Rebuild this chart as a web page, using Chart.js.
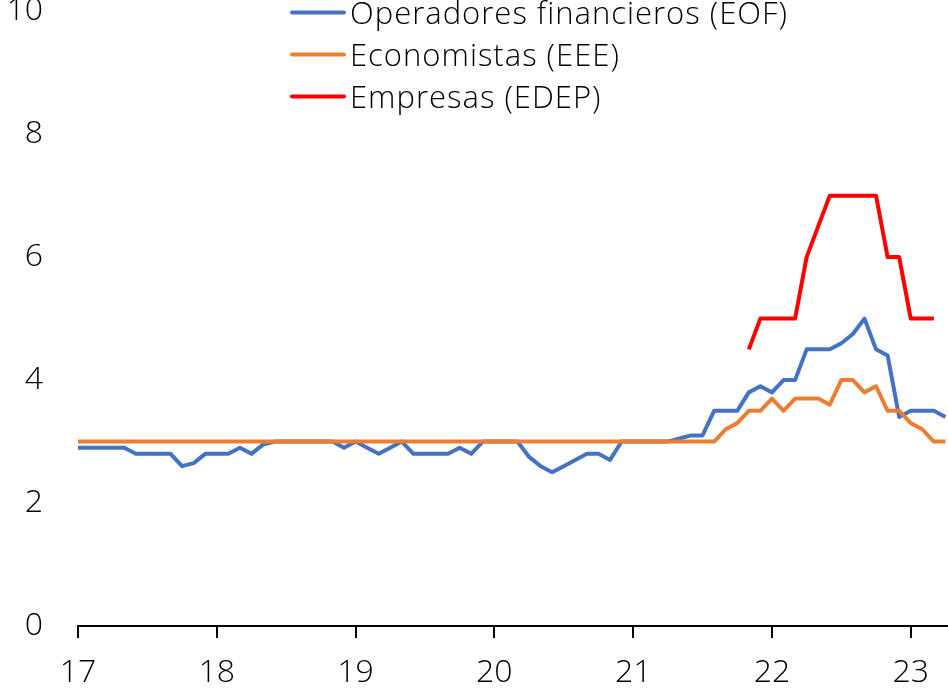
<!DOCTYPE html>
<html>
<head>
<meta charset="utf-8">
<script src="https://cdn.jsdelivr.net/npm/chart.js@4"></script>
<style>
  html, body { margin: 0; padding: 0; background: #fff; }
  #wrap { width: 948px; height: 692px; }
</style>
</head>
<body>
<div id="wrap"><canvas id="chart" width="948" height="692"></canvas></div>
<script>
// monthly observations, Jan 2017 .. Apr 2023
const yearLabels = ['17', '18', '19', '20', '21', '22', '23'];

const eof = [
  2.9, 2.9, 2.9, 2.9, 2.9, 2.8, 2.8, 2.8, 2.8, 2.6, 2.65, 2.8,   // 2017
  2.8, 2.8, 2.9, 2.8, 2.95, 3.0, 3.0, 3.0, 3.0, 3.0, 3.0, 2.9,   // 2018
  3.0, 2.9, 2.8, 2.9, 3.0, 2.8, 2.8, 2.8, 2.8, 2.9, 2.8, 3.0,    // 2019
  3.0, 3.0, 3.0, 2.75, 2.6, 2.5, 2.6, 2.7, 2.8, 2.8, 2.7, 3.0,   // 2020
  3.0, 3.0, 3.0, 3.0, 3.05, 3.1, 3.1, 3.5, 3.5, 3.5, 3.8, 3.9,   // 2021
  3.8, 4.0, 4.0, 4.5, 4.5, 4.5, 4.6, 4.75, 5.0, 4.5, 4.4, 3.4,   // 2022
  3.5, 3.5, 3.5, 3.4                                             // 2023
];

const eee = [
  3.0, 3.0, 3.0, 3.0, 3.0, 3.0, 3.0, 3.0, 3.0, 3.0, 3.0, 3.0,
  3.0, 3.0, 3.0, 3.0, 3.0, 3.0, 3.0, 3.0, 3.0, 3.0, 3.0, 3.0,
  3.0, 3.0, 3.0, 3.0, 3.0, 3.0, 3.0, 3.0, 3.0, 3.0, 3.0, 3.0,
  3.0, 3.0, 3.0, 3.0, 3.0, 3.0, 3.0, 3.0, 3.0, 3.0, 3.0, 3.0,
  3.0, 3.0, 3.0, 3.0, 3.0, 3.0, 3.0, 3.0, 3.2, 3.3, 3.5, 3.5,
  3.7, 3.5, 3.7, 3.7, 3.7, 3.6, 4.0, 4.0, 3.8, 3.9, 3.5, 3.5,
  3.3, 3.2, 3.0, 3.0
];

const edep = [
  null, null, null, null, null, null, null, null, null, null, null, null,
  null, null, null, null, null, null, null, null, null, null, null, null,
  null, null, null, null, null, null, null, null, null, null, null, null,
  null, null, null, null, null, null, null, null, null, null, null, null,
  null, null, null, null, null, null, null, null, null, null, 4.5, 5.0,
  5.0, 5.0, 5.0, 6.0, 6.5, 7.0, 7.0, 7.0, 7.0, 7.0, 6.0, 6.0,
  5.0, 5.0, 5.0, null
];

const seriesNames = ['Operadores financieros (EOF)', 'Economistas (EEE)', 'Empresas (EDEP)'];
const seriesColors = ['#4472C4', '#ED7D31', '#FF0000'];

const FONT = '"Open Sans", Lato, sans-serif';
const monthIdx = eof.map((v, i) => i);

// legend sits inside the plot, stacked like the original
const stackedLegend = {
  id: 'stackedLegend',
  afterDraw(chart) {
    const ctx = chart.ctx;
    ctx.save();
    ctx.font = '300 31px ' + FONT;
    ctx.letterSpacing = '1px';
    ctx.textBaseline = 'alphabetic';
    ctx.fillStyle = '#000';
    seriesNames.forEach((name, i) => {
      const y = 12.5 + i * 42;
      ctx.strokeStyle = seriesColors[i];
      ctx.lineWidth = 4;
      ctx.lineCap = 'round';
      ctx.beginPath();
      ctx.moveTo(292, y);
      ctx.lineTo(344, y);
      ctx.stroke();
      ctx.fillText(name, 350, y + 11);
    });
    ctx.restore();
  }
};

new Chart(document.getElementById('chart'), {
  type: 'line',
  data: {
    labels: monthIdx,
    datasets: [
      { label: seriesNames[0], data: eof, borderColor: seriesColors[0], order: 3 },
      { label: seriesNames[1], data: eee, borderColor: seriesColors[1], order: 2 },
      { label: seriesNames[2], data: edep, borderColor: seriesColors[2], order: 1 }
    ]
  },
  options: {
    responsive: false,
    animation: false,
    layout: { padding: { top: 0, right: 0, bottom: 1, left: 0 } },
    elements: {
      line: { borderWidth: 4, tension: 0, borderJoinStyle: 'round' },
      point: { radius: 0 }
    },
    plugins: { legend: { display: false }, tooltip: { enabled: false } },
    scales: {
      x: {
        type: 'linear',
        min: 0,
        max: 75.2,
        afterFit: scale => { scale.height = 65; },
        ticks: {
          autoSkip: false,
          padding: 19,
          color: '#000',
          font: { family: FONT, size: 32, weight: '300', lineHeight: 1.0 },
          maxRotation: 0,
          callback: v => yearLabels[v / 12]
        },
        afterBuildTicks: axis => {
          axis.ticks = yearLabels.map((l, i) => ({ value: i * 12 }));
        },
        grid: { drawOnChartArea: false, drawTicks: true, tickLength: 12, color: '#000', lineWidth: 2 },
        border: { display: true, color: '#000', width: 2 }
      },
      y: {
        min: 0,
        max: 10,
        afterFit: scale => { scale.width = 78; },
        ticks: {
          stepSize: 2,
          padding: 0,
          color: '#000',
          font: { family: FONT, size: 32, weight: '300', lineHeight: 0.7 }
        },
        grid: { display: true, drawOnChartArea: false, drawTicks: true, tickLength: 35, color: 'rgba(0,0,0,0)' },
        border: { display: false }
      }
    }
  },
  plugins: [stackedLegend]
});
</script>
</body>
</html>
